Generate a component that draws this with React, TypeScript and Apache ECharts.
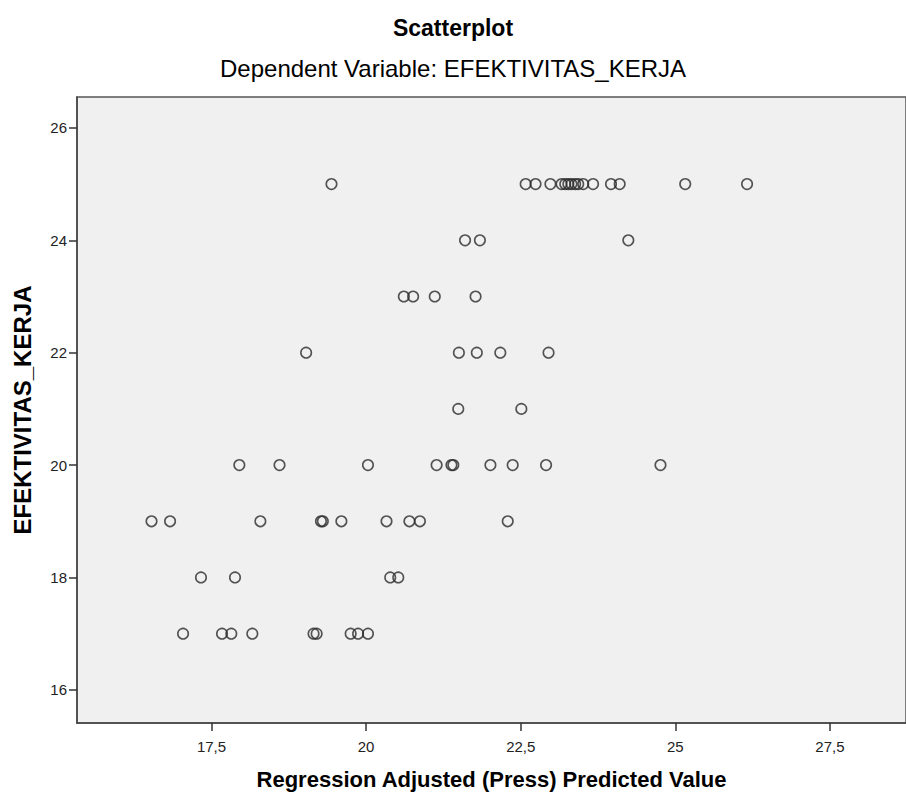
import React, { useEffect, useRef } from "react";
import * as echarts from "echarts";

const TITLE = "Scatterplot";
const SUBTITLE = "Dependent Variable: EFEKTIVITAS_KERJA";
const X_NAME = "Regression Adjusted (Press) Predicted Value";
const Y_NAME = "EFEKTIVITAS_KERJA";

const xTicks = [17.5, 20, 22.5, 25, 27.5];
const yTicks = [16, 18, 20, 22, 24, 26];

// predicted values, grouped by observed EFEKTIVITAS_KERJA
const x25 = [19.44, 22.58, 22.74, 22.98, 23.16, 23.22, 23.27, 23.32, 23.38, 23.43, 23.51, 23.67, 23.96, 24.1, 25.16, 26.16];
const x24 = [21.6, 21.84, 24.24];
const x23 = [20.61, 20.76, 21.11, 21.77];
const x22 = [19.03, 21.5, 21.79, 22.17, 22.95];
const x21 = [21.49, 22.51];
const x20 = [17.95, 18.6, 20.03, 21.14, 21.38, 21.41, 22.01, 22.37, 22.91, 24.76];
const x19 = [16.53, 16.83, 18.29, 19.27, 19.3, 19.6, 20.33, 20.7, 20.87, 22.29];
const x18 = [17.33, 17.88, 20.39, 20.52];
const x17 = [17.04, 17.67, 17.82, 18.16, 19.15, 19.2, 19.75, 19.87, 20.03];

const groups: [number, number[]][] = [
  [25, x25], [24, x24], [23, x23], [22, x22], [21, x21],
  [20, x20], [19, x19], [18, x18], [17, x17],
];

const FONT = "'Liberation Sans', Arial, sans-serif";
const fmt = (v: number) => String(v).replace(".", ",");

export default function App() {
  const ref = useRef<HTMLDivElement>(null);
  useEffect(() => {
    if (!ref.current) return;
    const chart = echarts.init(ref.current, null, { renderer: "svg" });
    const data: number[][] = [];
    groups.forEach(([y, xs]) => xs.forEach((x) => data.push([x, y])));
    chart.setOption({
      animation: false,
      backgroundColor: "#ffffff",
      title: [
        {
          text: TITLE,
          left: "center",
          top: 11,
          textStyle: { fontFamily: FONT, fontSize: 23, fontWeight: "bold", color: "#000" },
        },
        {
          text: SUBTITLE,
          left: "center",
          top: 51,
          textStyle: { fontFamily: FONT, fontSize: 24, fontWeight: "normal", color: "#000" },
        },
      ],
      grid: {
        left: 77,
        top: 97,
        width: 840,
        height: 626,
        show: true,
        backgroundColor: "#f0f0f0",
        borderColor: "#555",
        borderWidth: 1.5,
        containLabel: false,
      },
      xAxis: {
        type: "value",
        min: 15.325,
        max: 28.73,
        name: X_NAME,
        nameLocation: "middle",
        nameGap: 45,
        nameTextStyle: { fontFamily: FONT, fontSize: 22, fontWeight: "bold", color: "#000" },
        splitLine: { show: false },
        axisLine: { show: true, lineStyle: { color: "#444", width: 1.5 } },
        axisTick: { show: true, length: 8, customValues: xTicks, lineStyle: { color: "#333", width: 1.5 } },
        axisLabel: {
          customValues: xTicks,
          formatter: fmt,
          fontFamily: FONT,
          fontSize: 15,
          color: "#222",
          margin: 16,
        },
      },
      yAxis: {
        type: "value",
        min: 15.41,
        max: 26.55,
        name: Y_NAME,
        nameLocation: "middle",
        nameGap: 43,
        nameTextStyle: { fontFamily: FONT, fontSize: 24, fontWeight: "bold", color: "#000" },
        splitLine: { show: false },
        axisLine: { show: true, lineStyle: { color: "#444", width: 1.5 } },
        axisTick: { show: true, length: 8, customValues: yTicks, lineStyle: { color: "#333", width: 1.5 } },
        axisLabel: {
          customValues: yTicks,
          formatter: fmt,
          fontFamily: FONT,
          fontSize: 15,
          color: "#222",
          margin: 10,
        },
      },
      series: [
        {
          type: "scatter",
          data,
          symbol: "circle",
          symbolSize: 10.5,
          itemStyle: { color: "rgba(0,0,0,0)", borderColor: "#2a2a2a", borderWidth: 1.6 },
        },
      ],
    });
    return () => chart.dispose();
  }, []);
  return (
    <div
      ref={ref}
      style={{ position: "absolute", left: 0, top: 0, width: 906, height: 800 }}
    />
  );
}
